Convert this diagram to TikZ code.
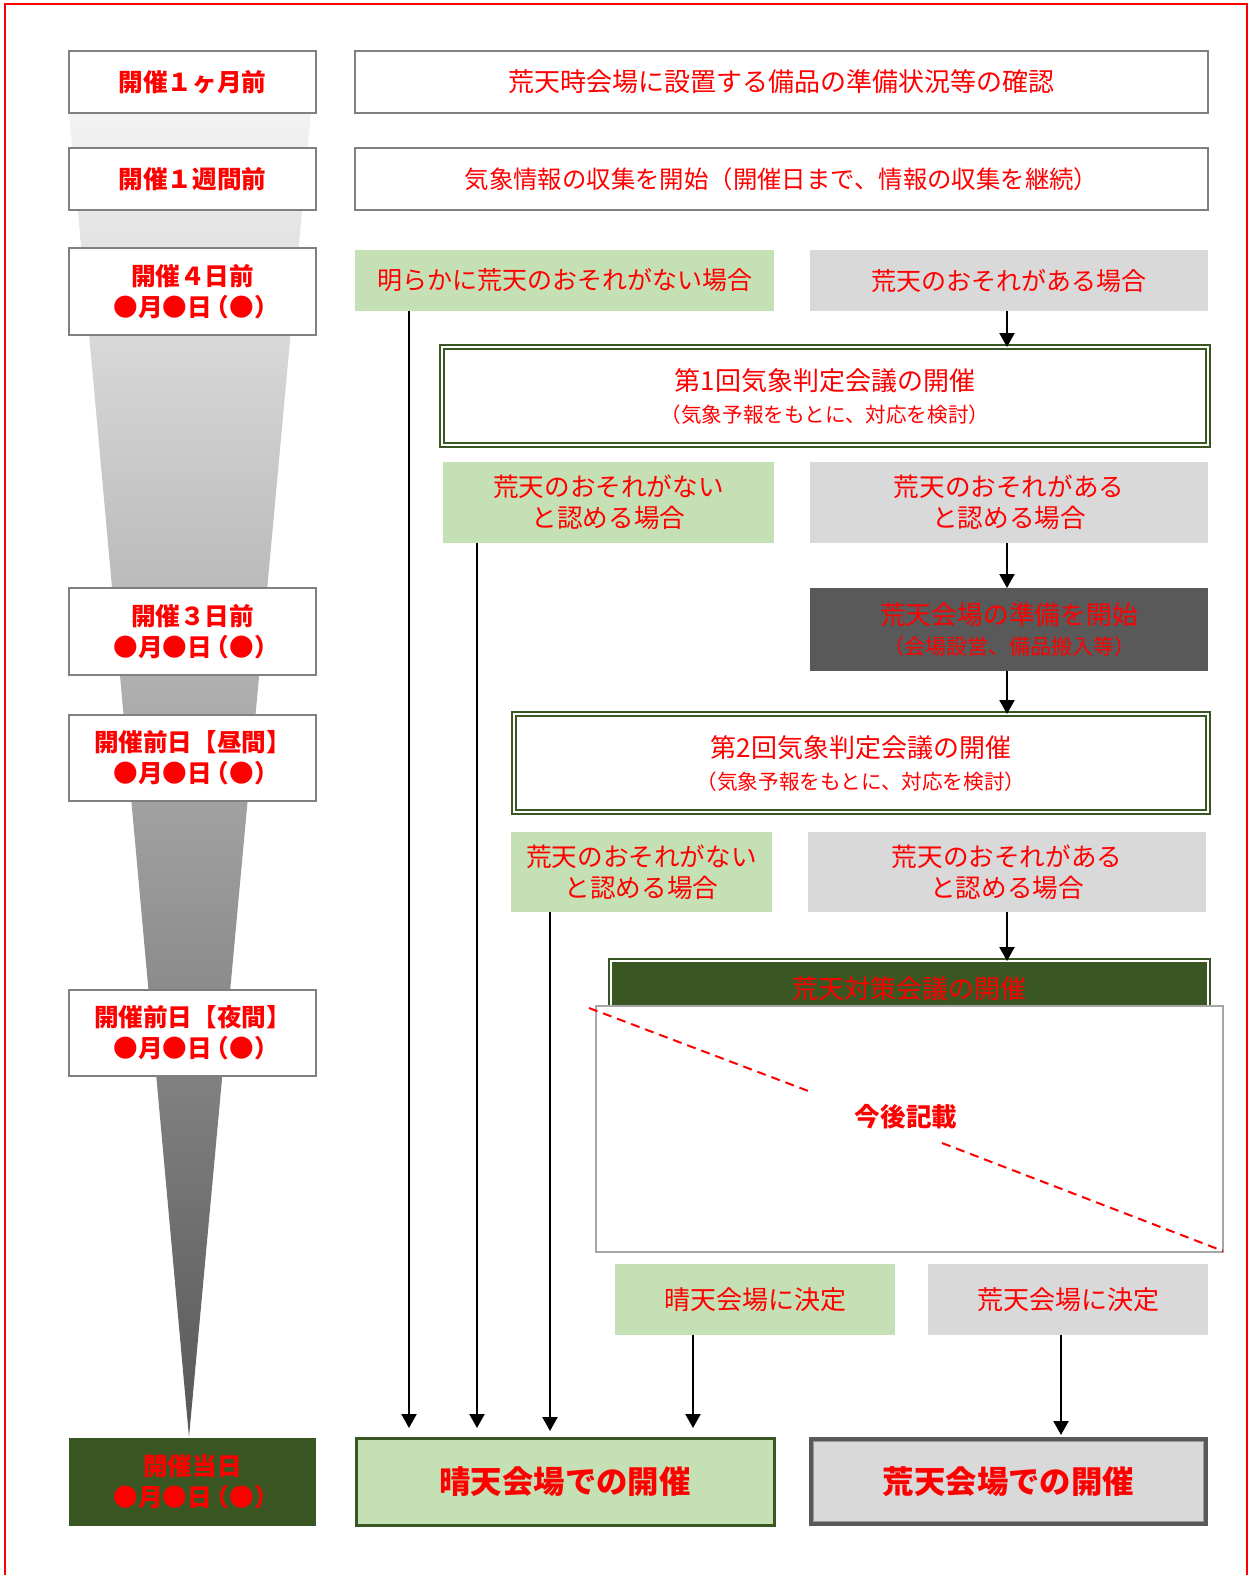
\documentclass[tikz,border=0pt]{standalone}
\usepackage{fontspec}
\setmainfont{Noto Sans CJK JP}
\usetikzlibrary{arrows.meta}
\definecolor{lgreen}{HTML}{C5E0B4}
\definecolor{lgray}{HTML}{D9D9D9}
\definecolor{dgray}{HTML}{595959}
\definecolor{dgreen}{HTML}{3A5723}
\definecolor{bgray}{HTML}{808080}
\definecolor{wbgray}{HTML}{A6A6A6}
\definecolor{fred}{HTML}{FF0000}
\newcommand\fs[2]{\fontsize{#1}{#2}\selectfont}
\newcommand\dday{●月●日\kern-0.3em（●）\kern-0.3em}
\newcommand\mybox[7]{\node[#6, minimum width={(#4-#2)*0.5pt}, minimum height={(#5-#3)*0.5pt}] (#1) at ({(#2+#4)/2},{(#3+#5)/2}) {#7};}
\tikzset{
  base/.style={inner sep=0pt, outer sep=0pt, align=center, text=fred},
  lbox/.style={base, draw=bgray, line width=0.7pt, fill=white, font=\bfseries\fs{12.3}{15.5}},
  rbox/.style={base, draw=bgray, line width=0.7pt, fill=white, font=\fs{13}{16}},
  gbox/.style={base, fill=lgreen, font=\fs{12.8}{15.5}},
  ybox/.style={base, fill=lgray, font=\fs{12.8}{15.5}},
  dbox/.style={base, draw=dgreen, double=white, double distance=1pt, line width=1pt, fill=white, font=\fs{13}{16}},
  arr/.style={-{Triangle[length=7pt,width=7.5pt]}, line width=1.1pt, black},
  redframe/.style={draw=fred, line width=1pt},
  dashline/.style={draw=fred, line width=1pt, dash pattern=on 4.5pt off 3pt}
}
\begin{document}
\begin{tikzpicture}[x=0.5pt,y=-0.5pt]
\useasboundingbox (0,0) rectangle (1253,1575);
% outer frame
\draw[redframe] (5,1590) -- (5,4) -- (1247,4) -- (1247,1590);
% funnel
\shade[top color=black!5, bottom color=black!66] (69,113) -- (311,113) -- (189,1437) -- cycle;
% left column
\mybox{L1}{69}{51}{316}{113}{lbox}{開催１ヶ月前}
\mybox{L2}{69}{148}{316}{210}{lbox}{開催１週間前}
\mybox{L3}{69}{248}{316}{335}{lbox}{開催４日前\\\dday}
\mybox{L4}{69}{588}{316}{675}{lbox}{開催３日前\\\dday}
\mybox{L5}{69}{715}{316}{801}{lbox}{開催前日【昼間】\\\dday}
\mybox{L6}{69}{990}{316}{1076}{lbox}{開催前日【夜間】\\\dday}
\mybox{L7}{69}{1438}{316}{1526}{base, fill=dgreen, font=\bfseries\fs{12.3}{15.5}}{開催当日\\\dday}
% right column
\mybox{R1}{355}{51}{1208}{113}{rbox}{荒天時会場に設置する備品の準備状況等の確認}
\mybox{R2}{355}{148}{1208}{210}{rbox, font=\fs{12.2}{16}}{気象情報の収集を開始（開催日まで、情報の収集を継続）}
\mybox{G1}{355}{250}{774}{311}{gbox, font=\fs{12.5}{15.5}}{明らかに荒天のおそれがない場合}
\mybox{Y1}{810}{250}{1208}{311}{ybox, font=\fs{12.5}{15.5}}{荒天のおそれがある場合}
\mybox{D1}{442}{347}{1208}{445}{dbox}{第1回気象判定会議の開催\\\fs{10.3}{17.5}（気象予報をもとに、対応を検討）}
\mybox{G2}{443}{462}{774}{543}{gbox}{荒天のおそれがない\\と認める場合}
\mybox{Y2}{810}{462}{1208}{543}{ybox}{荒天のおそれがある\\と認める場合}
\mybox{DK}{810}{588}{1208}{671}{base, fill=dgray, font=\fs{12.9}{15}}{荒天会場の準備を開始\\\fs{10.5}{15}（会場設営、備品搬入等）}
\mybox{D2}{514}{714}{1208}{812}{dbox}{第2回気象判定会議の開催\\\fs{10.3}{17.5}（気象予報をもとに、対応を検討）}
\mybox{G3}{511}{832}{772}{912}{gbox}{荒天のおそれがない\\と認める場合}
\mybox{Y3}{808}{832}{1206}{912}{ybox}{荒天のおそれがある\\と認める場合}
\mybox{DG}{611}{961}{1208}{1016}{dbox, fill=dgreen}{荒天対策会議の開催}
\mybox{WB}{596}{1006}{1223}{1252}{base, draw=wbgray, line width=1pt, fill=white}{}
\node[base, font=\bfseries\fs{12.8}{15}] (TK) at (906,1117) {今後記載};
\coordinate (dA) at (589,1008);
\coordinate (dB) at (811,1092);
\coordinate (dC) at (942,1143);
\coordinate (dD) at (1223,1251);
\draw[dashline] (dA) -- (dB);
\draw[dashline] (dC) -- (dD);
\mybox{G4}{615}{1264}{895}{1335}{gbox, font=\fs{13}{15.5}}{晴天会場に決定}
\mybox{Y4}{928}{1264}{1208}{1335}{ybox, font=\fs{13}{15.5}}{荒天会場に決定}
\mybox{F1}{356}{1438}{774}{1525}{base, fill=lgreen, draw=dgreen, line width=1.5pt, font=\bfseries\fs{15.7}{18}}{晴天会場での開催}
\mybox{F2}{811}{1439}{1206}{1524}{base, fill=lgray, draw=dgray, line width=2pt, font=\bfseries\fs{15.7}{18}}{荒天会場での開催}
\draw[draw=black!40, line width=0.5pt] ([shift={(1.3pt,-1.3pt)}]F2.north west) rectangle ([shift={(-1.3pt,1.3pt)}]F2.south east);
% connectors
\draw[arr] ([xshift=98.5pt]Y1.south west) -- ([xshift=98.5pt]Y1.south west |- D1.north);
\draw[arr] ([xshift=98.5pt]Y2.south west) -- ([xshift=98.5pt]Y2.south west |- DK.north);
\draw[arr] ([xshift=98.5pt]DK.south west) -- ([xshift=98.5pt]DK.south west |- D2.north);
\draw[arr] ([xshift=99.5pt]Y3.south west) -- ([xshift=99.5pt]Y3.south west |- DG.north);
\draw[arr, shorten >=5pt] ([xshift=27pt]G1.south west) -- ([xshift=27pt]G1.south west |- F1.north);
\draw[arr, shorten >=5pt] ([xshift=17pt]G2.south west) -- ([xshift=17pt]G2.south west |- F1.north);
\draw[arr, shorten >=3.5pt] ([xshift=19.5pt]G3.south west) -- ([xshift=19.5pt]G3.south west |- F1.north);
\draw[arr, shorten >=5pt] ([xshift=39pt]G4.south west) -- ([xshift=39pt]G4.south west |- F1.north);
\draw[arr, shorten >=2pt] ([xshift=66.5pt]Y4.south west) -- ([xshift=66.5pt]Y4.south west |- F2.north);
\end{tikzpicture}
\end{document}
